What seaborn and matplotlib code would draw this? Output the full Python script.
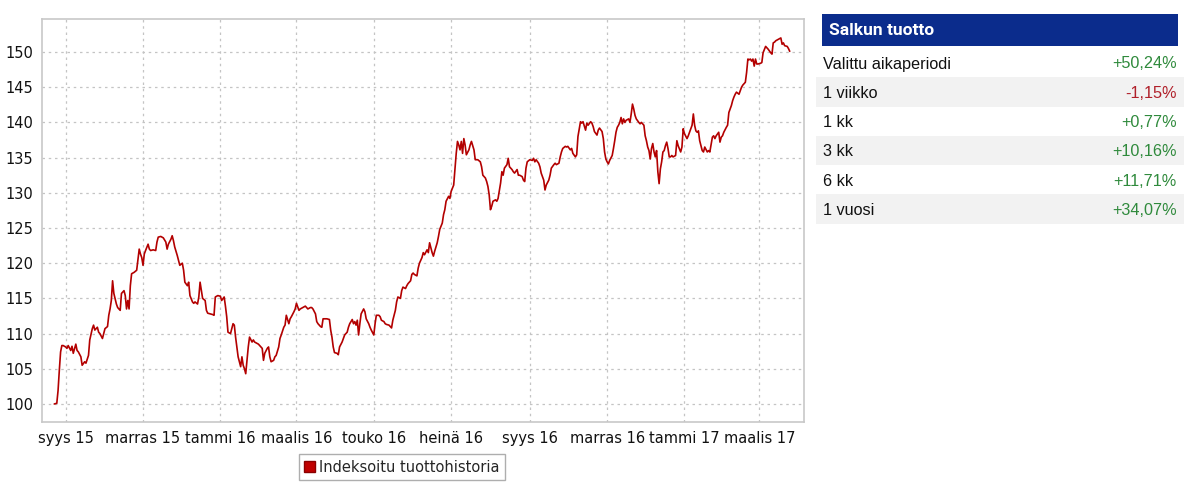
import numpy as np
import pandas as pd
import matplotlib
matplotlib.use("Agg")
import matplotlib.pyplot as plt
import seaborn as sns
from matplotlib.patches import Rectangle, Patch

# indeksoitu tuottohistoria, päivät laskettu 1.9.2015 alkaen
START = "2015-09-01"

days_2015 = [-9, -7, -6, -5, -4, -3, -2, 0, 1, 2, 4, 5, 6, 8, 9, 10, 12, 13, 15, 16,
             18, 19, 21, 22, 23, 25, 26, 27, 29, 30, 31, 33, 34, 35, 36, 37, 38, 40, 41, 43,
             44, 46, 47, 48, 49, 50, 51, 52, 54, 56, 58, 59, 60, 61, 62, 63, 65, 66, 67, 69,
             71, 72, 73, 75, 77, 79, 80, 81, 83, 84, 85, 86, 88, 89, 90, 92, 93, 94, 96, 97,
             98, 100, 101, 102, 104, 105, 106, 107, 108, 110, 111, 112, 114, 116, 117, 118,
             120, 122, 123, 125, 126, 127, 128]
vals_2015 = [100.0, 100.1, 101.9, 104.8, 107.4, 108.3, 108.3, 108.1, 107.9, 108.3,
             107.6, 108.2, 107.2, 108.5, 107.6, 107.4, 106.7, 105.5, 106.0, 105.8,
             106.9, 109.1, 110.7, 111.2, 110.5, 110.9, 110.2, 110.0, 109.3, 110.0,
             110.7, 111.0, 112.6, 113.5, 114.7, 117.5, 115.7, 114.2, 113.7, 113.3,
             115.7, 116.1, 115.4, 113.5, 114.7, 113.5, 116.8, 118.5, 118.7, 119.0,
             122.0, 121.3, 120.8, 119.7, 121.3, 121.8, 122.7, 122.0, 121.8, 121.9,
             121.8, 123.0, 123.7, 123.8, 123.6, 123.0, 122.0, 122.7, 123.4, 123.9,
             123.2, 122.3, 121.1, 120.4, 119.7, 120.0, 119.0, 117.3, 116.8, 117.3,
             115.4, 114.5, 114.3, 114.5, 114.2, 115.2, 117.3, 116.1, 115.0, 114.7,
             113.3, 112.9, 112.8, 112.7, 112.6, 115.2, 115.4, 115.3, 114.7, 115.2,
             113.9, 112.4, 110.2]

days_h1_2016 = [130, 132, 133, 134, 135, 136, 138, 139, 140, 141, 142, 143, 144, 145, 147,
                148, 149, 151, 152, 153, 155, 156, 157, 159, 160, 161, 162, 164, 165, 166,
                168, 169, 170, 172, 173, 174, 176, 177, 178, 180, 181, 182, 184, 185, 187,
                189, 190, 191, 193, 194, 195, 197, 198, 199, 201, 202, 203, 205, 206, 208,
                209, 210, 211, 212, 214, 215, 216, 218, 219, 220, 222, 223, 224, 226, 227,
                228, 229, 230, 231, 232, 233, 235, 236, 237, 239, 240, 241, 243, 244, 245,
                247, 248, 249, 251, 252, 253, 255, 256, 257, 258, 260, 261, 262, 264, 265,
                266, 268, 269, 270, 272]
vals_h1_2016 = [110.0, 111.4, 111.2, 109.5, 108.1, 106.7, 105.3, 106.7, 105.5, 105.0,
                104.3, 106.2, 108.1, 109.5, 108.8, 109.1, 108.8, 108.6, 108.5, 108.3,
                107.9, 106.2, 107.2, 107.9, 108.1, 106.7, 106.0, 106.2, 106.7, 106.9,
                108.1, 109.3, 109.8, 110.9, 111.2, 112.6, 111.4, 112.1, 112.4, 113.1,
                113.5, 114.3, 113.3, 113.5, 113.7, 113.9, 113.7, 113.5, 113.7, 113.7,
                113.5, 112.8, 111.7, 111.4, 111.0, 110.9, 112.1, 112.1, 112.1, 112.0,
                110.5, 109.5, 108.1, 107.3, 107.2, 107.0, 108.1, 108.8, 109.3, 109.8,
                110.2, 110.9, 111.4, 112.0, 111.4, 111.7, 111.2, 111.9, 109.8, 111.4,
                112.8, 113.5, 113.1, 112.1, 111.4, 110.9, 110.5, 109.8, 111.4, 112.6,
                112.6, 112.4, 111.9, 111.7, 111.4, 111.3, 111.2, 111.0, 110.8, 111.9,
                113.3, 114.5, 115.2, 115.0, 116.1, 116.6, 116.4, 116.8, 117.1, 117.5]

days_h2_2016 = [273, 274, 275, 277, 278, 279, 281, 282, 283, 285, 286, 287, 289, 290, 291,
                293, 294, 295, 297, 298, 299, 300, 302, 303, 304, 306, 307, 308, 309, 310,
                311, 312, 313, 314, 315, 316, 318, 319, 320, 322, 323, 324, 325, 327, 328,
                329, 331, 332, 333, 334, 335, 336, 337, 339, 340, 341, 343, 344, 345, 346,
                348, 349, 350, 352, 353, 354, 356, 357, 358, 360, 361, 362, 363, 364, 366,
                368, 369, 370, 371, 373, 374, 375, 377, 378, 379, 381, 382, 383, 385, 386,
                387, 389, 390, 391, 392, 394, 395, 396, 398, 399, 400, 402, 403, 404, 406,
                407, 408, 410, 411, 412, 414, 415, 416, 417, 419, 420, 421]
vals_h2_2016 = [118.4, 118.6, 118.4, 118.2, 119.3, 120.0, 120.8, 121.5, 121.2, 121.9,
                121.5, 122.9, 121.5, 121.0, 121.7, 122.9, 123.8, 124.8, 125.7, 126.9,
                127.6, 128.8, 129.5, 129.2, 130.2, 131.1, 133.3, 135.6, 137.3, 136.8,
                136.1, 137.3, 135.6, 137.7, 136.8, 135.4, 136.1, 136.8, 137.3, 136.1,
                134.7, 134.7, 134.7, 134.4, 133.7, 132.5, 132.1, 131.6, 130.9, 129.7,
                127.6, 128.1, 128.8, 129.0, 128.8, 129.2, 131.4, 133.0, 132.5, 133.5,
                134.0, 134.9, 133.7, 133.3, 133.0, 132.8, 133.3, 132.5, 132.5, 132.3,
                131.8, 131.6, 133.5, 134.4, 134.7, 134.6, 134.9, 134.4, 134.7, 134.2,
                133.7, 132.8, 131.8, 130.4, 131.1, 131.8, 132.5, 133.5, 134.0, 134.2,
                134.0, 134.2, 135.1, 135.8, 136.3, 136.6, 136.5, 136.6, 136.1, 136.3,
                135.6, 135.1, 135.4, 138.0, 140.1, 139.9, 140.1, 138.9, 139.9, 139.6,
                140.1, 139.9, 139.4, 138.7, 138.2, 138.9, 139.2]

days_2017 = [423, 424, 425, 426, 427, 428, 429, 431, 432, 433, 434, 435, 436, 437, 438,
             439, 440, 441, 442, 444, 445, 446, 447, 448, 449, 450, 452, 453, 454, 456,
             457, 458, 459, 460, 461, 462, 463, 464, 465, 466, 467, 468, 469, 470, 471,
             472, 473, 474, 475, 476, 477, 478, 479, 481, 482, 483, 485, 486, 487, 488,
             490, 491, 492, 494, 495, 496, 497, 498, 499, 500, 502, 503, 504, 506, 507,
             508, 510, 511, 512, 513, 515, 516, 517, 518, 519, 521, 522, 523, 524, 525,
             526, 527, 528, 529, 531, 532, 533, 534, 536, 537, 538, 539, 540, 541, 542,
             543, 544, 545, 546, 548, 549, 550, 552, 553, 554, 556, 557, 558, 559, 560,
             562, 563, 564, 565, 566, 567, 569, 570, 571]
vals_2017 = [138.7, 137.7, 135.8, 134.8, 134.4, 134.1, 134.6, 135.3, 136.3, 137.4,
             138.6, 139.3, 139.6, 140.0, 140.7, 139.8, 140.5, 140.0, 140.3, 140.5,
             140.0, 141.2, 142.6, 141.9, 141.0, 140.5, 140.0, 139.8, 140.0, 139.6,
             138.1, 137.4, 136.5, 136.0, 134.8, 136.3, 137.0, 135.8, 135.1, 136.0,
             133.0, 131.3, 133.4, 134.4, 135.8, 136.0, 136.7, 137.2, 136.3, 135.1,
             135.1, 135.3, 135.1, 135.3, 137.4, 136.7, 135.8, 136.5, 139.1, 138.4,
             137.7, 138.1, 138.6, 139.6, 141.2, 139.6, 138.8, 138.6, 138.8, 137.4,
             136.0, 135.8, 136.5, 135.8, 136.0, 135.8, 137.9, 138.1, 137.7, 138.1,
             138.6, 137.2, 137.9, 138.1, 138.6, 139.3, 139.6, 141.4, 141.9, 142.4,
             143.1, 143.6, 144.0, 144.3, 144.0, 144.5, 145.0, 145.3, 145.7, 147.1,
             149.0, 148.9, 149.0, 148.7, 149.0, 148.0, 149.0, 148.3, 148.3, 148.4,
             148.5, 149.9, 150.8, 150.6, 150.4, 149.9, 149.7, 151.3, 151.4, 151.6,
             151.8, 151.9, 152.0, 151.1, 151.3, 150.9, 150.8, 150.5, 150.1]

tick_dates = ["2015-09-01", "2015-11-01", "2016-01-01", "2016-03-01", "2016-05-01",
              "2016-07-01", "2016-09-01", "2016-11-01", "2017-01-01", "2017-03-01"]
tick_labels = ["syys 15", "marras 15", "tammi 16", "maalis 16", "touko 16",
               "heinä 16", "syys 16", "marras 16", "tammi 17", "maalis 17"]
y_ticks = [100, 105, 110, 115, 120, 125, 130, 135, 140, 145, 150]
legend_label = "Indeksoitu tuottohistoria"

# salkun tuotto -taulukko
table_title = "Salkun tuotto"
period_labels = ["Valittu aikaperiodi", "1 viikko", "1 kk", "3 kk", "6 kk", "1 vuosi"]
period_returns = ["+50,24%", "-1,15%", "+0,77%", "+10,16%", "+11,71%", "+34,07%"]

LINE_RED = "#b30000"
GREEN = "#2f8a3c"
RED = "#b0202a"
NAVY = "#0b2c8c"

W, H = 1200, 490


def fx(x):
    return x / W


def fy(y):
    return 1 - y / H


days = days_2015 + days_h1_2016 + days_h2_2016 + days_2017
vals = vals_2015 + vals_h1_2016 + vals_h2_2016 + vals_2017
df = pd.DataFrame({"date": pd.Timestamp(START) + pd.to_timedelta(days, unit="D"),
                   "index": vals})

sns.set_style("white")
plt.rcParams["font.family"] = ["DejaVu Sans"]

fig = plt.figure(figsize=(12, 4.9), dpi=100)
ax = fig.add_axes([fx(41.7), fy(422), fx(804.3 - 41.7), (422 - 19) / H])

sns.lineplot(data=df, x="date", y="index", color=LINE_RED, linewidth=1.2,
             estimator=None, errorbar=None, ax=ax, legend=False)

start = pd.Timestamp(START)
ax.set_xlim(start + pd.Timedelta(days=-18.9), start + pd.Timedelta(days=582.5))
ax.set_ylim(97.44, 154.69)
ax.set_xticks(pd.to_datetime(tick_dates))
ax.set_xticklabels(tick_labels)
ax.set_yticks(y_ticks)
ax.set_xlabel("")
ax.set_ylabel("")

ax.grid(True, color="#c4c4c4", linestyle=(0, (2, 3)), linewidth=0.9)
for sp in ax.spines.values():
    sp.set_color("#c8c8c8")
    sp.set_linewidth(1.2)
ax.tick_params(axis="both", length=3, color="#999999", labelsize=10.5,
               labelcolor="#111111", pad=3)
ax.tick_params(axis="x", pad=3.5)

fig.legend(handles=[Patch(facecolor="#c00000", edgecolor="#8a0000")],
           labels=[legend_label], loc="center", bbox_to_anchor=(fx(402), fy(467)),
           frameon=True, fancybox=False, edgecolor="#9a9a9a", fontsize=10.5,
           handlelength=0.75, handleheight=0.75, handletextpad=0.3,
           borderpad=0.35, borderaxespad=0)

# taulukko oikealla
fig.add_artist(Rectangle((fx(821.7), fy(45.7)), fx(1178.3 - 821.7), (45.7 - 14) / H,
                         transform=fig.transFigure, facecolor=NAVY, edgecolor="none"))
fig.text(fx(829), fy(35), table_title, color="white", fontsize=12.5,
         fontweight="bold", family=["Roboto", "DejaVu Sans"], va="baseline")

row_h = 29.3
for i, (lab, ret) in enumerate(zip(period_labels, period_returns)):
    top = 48 + row_h * i
    if i % 2 == 1:
        fig.add_artist(Rectangle((fx(816), fy(top + row_h)), fx(1184 - 816), row_h / H,
                                 transform=fig.transFigure, facecolor="#f2f2f2",
                                 edgecolor="none"))
    fig.text(fx(822.7), fy(top + 20.5), lab, color="#111111", fontsize=11.7,
             family=["Liberation Sans", "DejaVu Sans"], va="baseline")
    fig.text(fx(1176.7), fy(top + 20.5), ret, color=RED if ret.startswith("-") else GREEN,
             fontsize=11.7, family=["Liberation Sans", "DejaVu Sans"],
             va="baseline", ha="right")

fig.savefig("out.png", dpi=100)
plt.close(fig)
